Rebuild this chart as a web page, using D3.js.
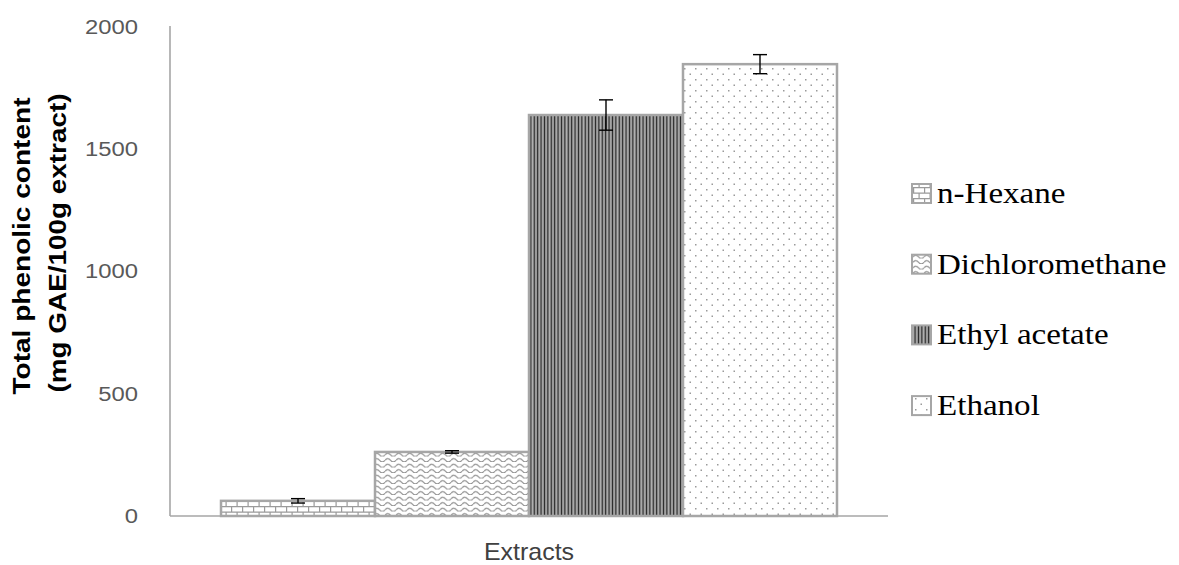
<!DOCTYPE html>
<html>
<head>
<meta charset="utf-8">
<script src="https://cdn.jsdelivr.net/npm/d3@7"></script>
<style>
  html, body { margin: 0; padding: 0; background: #fff; }
  svg { display: block; }
</style>
</head>
<body>
<svg id="chart" width="1179" height="565"></svg>
<script>
// ---- data ----
const category = "Extracts";
const series = ["n-Hexane", "Dichloromethane", "Ethyl acetate", "Ethanol"];
const values = [62, 262, 1640, 1848];
const errors = [9, 5, 62, 39];
const yTicks = [0, 500, 1000, 1500, 2000];
const yTitleLines = ["Total phenolic content", "(mg GAE/100g extract)"];

// ---- layout ----
const W = 1179, H = 565;
const plot = { left: 170, right: 888, top: 27, bottom: 516 };
const STRETCH = 1.14; // wide-set lettering
const svg = d3.select("#chart");

const y = d3.scaleLinear().domain([0, 2000]).range([plot.bottom, plot.top]);
const x0 = d3.scaleBand().domain([category]).range([plot.left, plot.right])
  .paddingInner(0).paddingOuter(0.0828);
const x1 = d3.scaleBand().domain(series).range([0, x0.bandwidth()]).padding(0);

// ---- fill patterns ----
const defs = svg.append("defs");
const lineGray = "#9a9a9a";

// brick
const pBrick = defs.append("pattern").attr("id", "pat0")
  .attr("patternUnits", "userSpaceOnUse").attr("width", 11).attr("height", 11);
pBrick.append("rect").attr("width", 11).attr("height", 11).attr("fill", "#fff");
pBrick.append("path")
  .attr("d", "M0,0.6H11 M0,6.1H11 M0.6,0V5.5 M6.1,5.5V11")
  .attr("stroke", lineGray).attr("stroke-width", 1.2).attr("fill", "none");

// waves
const pWave = defs.append("pattern").attr("id", "pat1")
  .attr("patternUnits", "userSpaceOnUse").attr("width", 11).attr("height", 5.5);
pWave.append("rect").attr("width", 11).attr("height", 5.5).attr("fill", "#fff");
pWave.append("path")
  .attr("d", "M0,3.8 Q2.75,0.6 5.5,3.8 T11,3.8")
  .attr("stroke", "#8f8f8f").attr("stroke-width", 1.2).attr("fill", "none");

// dark vertical stripes
const pStripe = defs.append("pattern").attr("id", "pat2")
  .attr("patternUnits", "userSpaceOnUse").attr("width", 3.4).attr("height", 10);
pStripe.append("rect").attr("width", 3.4).attr("height", 10).attr("fill", "#8f8f8f");
pStripe.append("rect").attr("x", 0).attr("width", 1.4).attr("height", 10).attr("fill", "#262626");
pStripe.append("rect").attr("x", 1.4).attr("width", 0.6).attr("height", 10).attr("fill", "#ececec");

// dots
const pDot = defs.append("pattern").attr("id", "pat3")
  .attr("patternUnits", "userSpaceOnUse").attr("width", 11).attr("height", 11);
pDot.append("rect").attr("width", 11).attr("height", 11).attr("fill", "#fff");
pDot.append("rect").attr("x", 2).attr("y", 2).attr("width", 1.5).attr("height", 1.5).attr("fill", "#9a9a9a");
pDot.append("rect").attr("x", 7.5).attr("y", 7.5).attr("width", 1.5).attr("height", 1.5).attr("fill", "#9a9a9a");

const fillFor = i => `url(#pat${i})`;

// helper: widen horizontal text by a factor
function widen(sel, factor) {
  sel.each(function () {
    const len = this.getComputedTextLength();
    d3.select(this).attr("textLength", len * factor).attr("lengthAdjust", "spacingAndGlyphs");
  });
}

// ---- bars ----
const g = svg.append("g");
const data = series.map((s, i) => ({ s, v: values[i], e: errors[i], i }));

g.selectAll("rect.bar").data(data).join("rect")
  .attr("class", "bar")
  .attr("x", d => x0(category) + x1(d.s))
  .attr("y", d => y(d.v))
  .attr("width", x1.bandwidth())
  .attr("height", d => y(0) - y(d.v))
  .attr("fill", d => fillFor(d.i))
  .attr("stroke", "#a6a6a6")
  .attr("stroke-width", 2.5);

// ---- axes ----
svg.append("line")
  .attr("x1", plot.left).attr("x2", plot.left)
  .attr("y1", y(2000) - 1).attr("y2", y(0))
  .attr("stroke", "#a6a6a6").attr("stroke-width", 1.6);
svg.append("line")
  .attr("x1", plot.left).attr("x2", plot.right)
  .attr("y1", y(0)).attr("y2", y(0))
  .attr("stroke", "#a6a6a6").attr("stroke-width", 1.6);

const yAxis = svg.append("g")
  .attr("transform", `translate(${plot.left},0)`)
  .call(d3.axisLeft(y).tickValues(yTicks).tickSize(0).tickPadding(32).tickFormat(d3.format("d")));
yAxis.select(".domain").remove();
yAxis.selectAll("text")
  .attr("font-family", "'Liberation Sans', Arial, sans-serif")
  .attr("font-size", 20)
  .attr("fill", "#595959")
  .call(widen, 1.19);

// ---- error bars ----
const eb = svg.append("g").attr("stroke", "#000").attr("stroke-width", 1.4);
data.forEach(d => {
  const cx = x0(category) + x1(d.s) + x1.bandwidth() / 2;
  const yt = y(d.v + d.e), yb = y(d.v - d.e);
  eb.append("line").attr("x1", cx).attr("x2", cx).attr("y1", yt).attr("y2", yb);
  eb.append("line").attr("x1", cx - 7).attr("x2", cx + 7).attr("y1", yt).attr("y2", yt);
  eb.append("line").attr("x1", cx - 7).attr("x2", cx + 7).attr("y1", yb).attr("y2", yb);
});

// ---- axis titles ----
svg.append("text")
  .attr("x", (plot.left + plot.right) / 2)
  .attr("y", 560)
  .attr("text-anchor", "middle")
  .attr("font-family", "'Liberation Sans', Arial, sans-serif")
  .attr("font-size", 24)
  .attr("fill", "#404040")
  .text(category)
  .call(widen, 1.04);

const titleX = [30, 66];
const titleY = [246, 243];
const titleLen = [297, 299];
yTitleLines.forEach((t, i) => {
  svg.append("text")
    .attr("transform", `translate(${titleX[i]},${titleY[i]}) rotate(-90)`)
    .attr("text-anchor", "middle")
    .attr("font-family", "'Liberation Sans', Arial, sans-serif")
    .attr("font-weight", "bold")
    .attr("font-size", 23)
    .attr("fill", "#000")
    .attr("textLength", titleLen[i])
    .attr("lengthAdjust", "spacingAndGlyphs")
    .text(t);
});

// ---- legend ----
const legend = svg.append("g");
const legX = 912, legTextX = 937, legBase = 203, legStep = 70.7, sw = 19;
data.forEach(d => {
  const base = legBase + d.i * legStep;
  legend.append("rect")
    .attr("x", legX).attr("y", base - 19)
    .attr("width", sw).attr("height", sw)
    .attr("fill", fillFor(d.i))
    .attr("stroke", "#a6a6a6").attr("stroke-width", 2);
  legend.append("text")
    .attr("x", legTextX).attr("y", base)
    .attr("font-family", "'Liberation Serif', 'Times New Roman', serif")
    .attr("font-size", 29)
    .attr("fill", "#000")
    .text(d.s)
    .call(widen, STRETCH);
});
</script>
</body>
</html>
